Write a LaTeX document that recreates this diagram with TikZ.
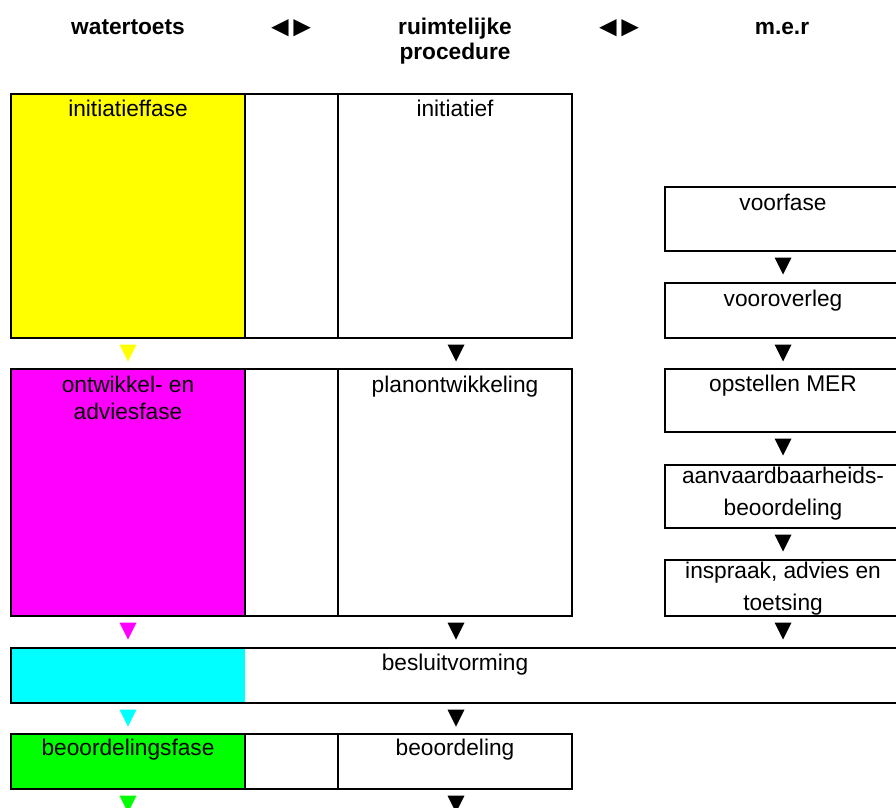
\documentclass[tikz,border=0pt]{standalone}
\usepackage{fontspec}
\setmainfont{Liberation Sans}
\definecolor{cYellow}{RGB}{255,255,0}
\definecolor{cMagenta}{RGB}{255,0,255}
\definecolor{cCyan}{RGB}{0,255,255}
\definecolor{cGreen}{RGB}{0,255,0}
\begin{document}
\begin{tikzpicture}[x=1pt,y=-1pt,
  box/.style={draw=black, line width=1.8pt, anchor=north west, inner sep=0pt, outer sep=0pt},
  fillbox/.style={anchor=north west, inner sep=0pt, outer sep=0pt},
  lbl/.style={anchor=base, inner sep=0pt, font=\fontsize{22.7}{26.7}\selectfont, align=center},
  lbltwo/.style={anchor=base, inner sep=0pt, font=\fontsize{22.7}{32}\selectfont, align=center},
  hdr/.style={anchor=base, inner sep=0pt, font=\fontsize{22.7}{25}\selectfont\bfseries, align=center},
  dir/.style={anchor=base, inner sep=0pt, font=\fontsize{29}{29}\selectfont\bfseries},
  pics/tri/.style={code={\fill[#1] (-8.5,0) -- (8.5,0) -- (0,17) -- cycle;}}
]
\useasboundingbox (0,0) rectangle (896,807);
\clip (0,0) rectangle (896,807);

% header
\node[hdr] (h1) at (128,34) {watertoets};
\node[dir] (h2) at (291,36) {◄\kern-6.5pt►};
\node[hdr] (h3) at (455,59) {ruimtelijke\\procedure};
\node[dir] (h4) at (619,36) {◄\kern-6.5pt►};
\node[hdr] (h5) at (782,34) {m.e.r};

% row 1
\node[box, fill=cYellow, minimum width=234, minimum height=244] (wt1) at (11,94) {};
\node[box, minimum width=93, minimum height=244] (wt1b) at (245,94) {};
\node[box, minimum width=234, minimum height=244] (rp1) at (338,94) {};
\node[lbl] (t-wt1) at (128,116) {initiatieffase};
\node[lbl] (t-rp1) at (455,116) {initiatief};

% m.e.r column
\node[box, minimum width=236, minimum height=64] (mer1) at (665,187) {};
\node[lbl] (t-mer1) at (783,210.5) {voorfase};
\node[box, minimum width=236, minimum height=55] (mer2) at (665,283) {};
\node[lbl] (t-mer2) at (783,306) {vooroverleg};
\node[box, minimum width=236, minimum height=63] (mer3) at (665,369) {};
\node[lbl] (t-mer3) at (783,391.5) {opstellen MER};
\node[box, minimum width=236, minimum height=63] (mer4) at (665,465) {};
\node[lbltwo] (t-mer4) at (783,515) {aanvaardbaarheids-\\beoordeling};
\node[box, minimum width=236, minimum height=56] (mer5) at (665,560) {};
\node[lbltwo] (t-mer5) at (783,610) {inspraak, advies en\\toetsing};

% row 2
\node[box, fill=cMagenta, minimum width=234, minimum height=247] (wt2) at (11,369) {};
\node[box, minimum width=93, minimum height=247] (wt2b) at (245,369) {};
\node[box, minimum width=234, minimum height=247] (rp2) at (338,369) {};
\node[lbl] (t-wt2) at (128,419.3) {ontwikkel- en\\adviesfase};
\node[lbl] (t-rp2) at (455,392) {planontwikkeling};

% row 3
\node[fillbox, fill=cCyan, minimum width=234, minimum height=55] (wt3) at (11,648) {};
\node[box, line width=1.5pt, minimum width=900, minimum height=55] (bs) at (11,648) {};
\node[lbl] (t-bs) at (455,670) {besluitvorming};

% row 4
\node[box, fill=cGreen, minimum width=234, minimum height=55] (wt4) at (11,734) {};
\node[box, minimum width=93, minimum height=55] (wt4b) at (245,734) {};
\node[box, minimum width=234, minimum height=55] (rp4) at (338,734) {};
\node[lbl] (t-wt4) at (128,755.7) {beoordelingsfase};
\node[lbl] (t-rp4) at (455,755.7) {beoordeling};

% arrows
\pic at (128,344.5) {tri=cYellow};
\pic at (456,344.5) {tri=black};
\pic at (783,344.5) {tri=black};
\pic at (783,257.5) {tri=black};
\pic at (783,438.5) {tri=black};
\pic at (783,534.5) {tri=black};
\pic at (128,622.5) {tri=cMagenta};
\pic at (456,622.5) {tri=black};
\pic at (783,622.5) {tri=black};
\pic at (128,709.5) {tri=cCyan};
\pic at (456,709.5) {tri=black};
\pic at (128,795.5) {tri=cGreen};
\pic at (456,795.5) {tri=black};
\end{tikzpicture}
\end{document}
